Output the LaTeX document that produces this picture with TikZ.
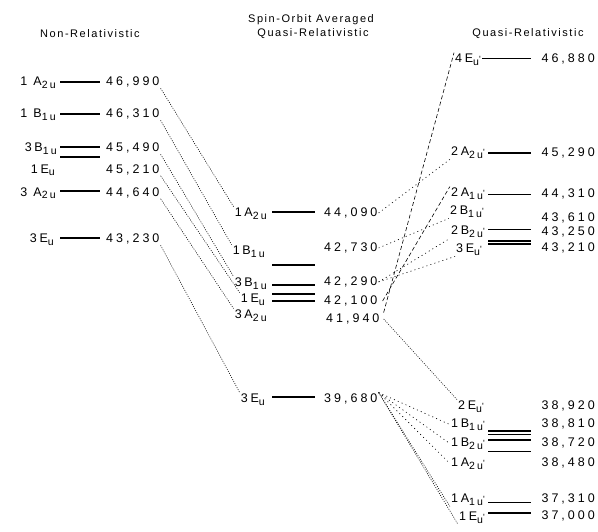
\documentclass[tikz,border=0pt]{standalone}
\usepackage{fontspec}
\setmainfont{Liberation Sans}
\newfontfamily\lblfont[LetterSpace=22]{Liberation Sans}
\newfontfamily\valfont[LetterSpace=24]{Liberation Sans}
\newfontfamily\ttlfont[LetterSpace=14]{Liberation Sans}
\newcommand{\sbx}[1]{\raisebox{-2.6pt}{\fontsize{10.5}{10.5}\selectfont #1}}
\newcommand{\prm}{{\fontsize{9}{9}\selectfont\char"0027}}
\begin{document}
\begin{tikzpicture}[x=1pt,y=-1pt,
  lbl/.style={anchor=base east,inner sep=1pt,font=\lblfont\fontsize{12.5}{14}\selectfont},
  val/.style={anchor=base west,inner sep=1pt,font=\valfont\fontsize{12.5}{14}\selectfont},
  rval/.style={anchor=base east,inner sep=1pt,font=\valfont\fontsize{12.5}{14}\selectfont},
  ttl/.style={inner sep=0pt,font=\ttlfont\fontsize{11}{13}\selectfont,align=center},
  lev/.style={line width=1.2pt},
  ldot/.style={line width=0.55pt,dash pattern=on 1pt off 1.3pt},
  sdot/.style={line width=0.65pt,dash pattern=on 1pt off 3.2pt},
  dsh/.style={line width=0.6pt,dash pattern=on 4pt off 2.5pt}]
\useasboundingbox (0,0) rectangle (598,531);
% titles
\node[ttl] (t1) at (90,34) {Non-Relativistic};
\node[ttl] (t2a) at (311,20) {Spin-Orbit Averaged};
\node[ttl] (t2b) at (313,34) {Quasi-Relativistic};
\node[ttl] (t3) at (528,34) {Quasi-Relativistic};
% ---------- left column
\node[lbl] (LA) at (57,85.5) {1 A\sbx{2u}};
\node[lbl] (LB) at (57,117.5) {1 B\sbx{1u}};
\node[lbl] (LC) at (58,151.5) {3B\sbx{1u}};
\node[lbl] (LD) at (56,173) {1E\sbx{u}};
\node[lbl] (LE) at (57,196) {3 A\sbx{2u}};
\node[lbl] (LF) at (55,242.5) {3E\sbx{u}};
\node[val] (lvA) at (105,85.5) {46,990};
\node[val] (lvB) at (105,117.5) {46,310};
\node[val] (lvC) at (105,151.5) {45,490};
\node[val] (lvD) at (105,173) {45,210};
\node[val] (lvE) at (105,196) {44,640};
\node[val] (lvF) at (105,242.5) {43,230};
\draw[lev] (60,82) -- (100,82);
\draw[lev] (60,114) -- (100,114);
\draw[lev] (60,147) -- (100,147);
\draw[lev] (60,157) -- (100,157);
\draw[lev] (60,191) -- (100,191);
\draw[lev] (60,238) -- (100,238);
% ---------- middle column
\node[lbl] (MA) at (268,216.5) {1A\sbx{2u}};
\node[lbl] (MB) at (266,254.5) {1B\sbx{1u}};
\node[lbl] (MC) at (268,286.5) {3B\sbx{1u}};
\node[lbl] (MD) at (266,302.5) {1E\sbx{u}};
\node[lbl] (ME) at (268,318.5) {3A\sbx{2u}};
\node[lbl] (MF) at (266,402.5) {3E\sbx{u}};
\node[val] (mvA) at (323,216.5) {44,090};
\node[val] (mvB) at (323,251.5) {42,730};
\node[val] (mvC) at (323,285.5) {42,290};
\node[val] (mvD) at (323,304.5) {42,100};
\node[val] (mvE) at (325,322.5) {41,940};
\node[val] (mvF) at (323,402.5) {39,680};
\draw[lev] (272,212) -- (315,212);
\draw[lev] (272,265) -- (315,265);
\draw[lev] (272,285) -- (315,285);
\draw[lev] (272,294) -- (315,294);
\draw[lev] (272,301) -- (315,301);
\draw[lev] (272,397) -- (315,397);
% ---------- right column
\node[lbl] (R1) at (482,62.5) {4E\sbx{u}\prm};
\node[lbl] (R2) at (486,155.5) {2A\sbx{2u}\prm};
\node[lbl] (R3) at (486,196.5) {2A\sbx{1u}\prm};
\node[lbl] (R4) at (485,214.5) {2B\sbx{1u}\prm};
\node[lbl] (R5) at (486,234.5) {2B\sbx{2u}\prm};
\node[lbl] (R6) at (483,252.5) {3E\sbx{u}\prm};
\node[lbl] (R7) at (485,409.5) {2E\sbx{u}\prm};
\node[lbl] (R8) at (486,427.5) {1B\sbx{1u}\prm};
\node[lbl] (R9) at (486,446.5) {1B\sbx{2u}\prm};
\node[lbl] (R10) at (486,466.5) {1A\sbx{2u}\prm};
\node[lbl] (R11) at (486,502.5) {1A\sbx{1u}\prm};
\node[lbl] (R12) at (486,520.5) {1E\sbx{u}\prm};
\node[rval] (rv1) at (596,62.5) {46,880};
\node[rval] (rv2) at (596,156.5) {45,290};
\node[rval] (rv3) at (596,197.5) {44,310};
\node[rval] (rv4) at (596,221.5) {43,610};
\node[rval] (rv5) at (596,235) {43,250};
\node[rval] (rv6) at (596,251.5) {43,210};
\node[rval] (rv7) at (596,409.5) {38,920};
\node[rval] (rv8) at (596,427.5) {38,810};
\node[rval] (rv9) at (596,446.5) {38,720};
\node[rval] (rv10) at (596,466.5) {38,480};
\node[rval] (rv11) at (596,502.5) {37,310};
\node[rval] (rv12) at (596,519.5) {37,000};
\draw[line width=1pt] (482,58) -- (531,58);
\draw[lev] (488,153) -- (531,153);
\draw[line width=1pt] (488,194) -- (531,194);
\draw[line width=1pt] (488,229) -- (531,229);
\draw[lev] (488,241) -- (531,241);
\draw[line width=1.6pt] (488,244) -- (531,244);
\draw[lev] (488,431) -- (531,431);
\draw[lev] (488,434.5) -- (531,434.5);
\draw[lev] (488,440) -- (531,440);
\draw[line width=1pt] (488,451) -- (531,451);
\draw[line width=1pt] (488,502) -- (531,502);
\draw[lev] (488,513) -- (531,513);
% ---------- connectors left -> middle
\draw[ldot] (lvA.south east) -- (MA.north west);
\draw[ldot] (lvB.south east) -- (MB.north west);
\draw[ldot] (lvC.south east) -- (MC.north west);
\draw[ldot] (lvD.south east) -- (MD.north west);
\draw[ldot] (lvE.south east) -- (ME.north west);
\draw[ldot] (lvF.south east) -- (MF.north west);
% ---------- connectors middle -> right
\draw[sdot] (mvA.east) -- (R2.south west);
\draw[sdot] (mvB.east) -- (R4.south west);
\draw[sdot] (mvC.east) -- (R5.south west);
\draw[sdot] (mvC.east) -- (R6.south west);
\draw[dsh] ([xshift=4pt]mvD.east) -- (R3.north west);
\draw[dsh] ([xshift=3pt]mvE.north east) -- (R1.north west);
\draw[ldot] ([xshift=3pt]mvE.east) -- (R7.north west);
\draw[sdot] (mvF.north east) -- (R8.west);
\draw[sdot] (mvF.north east) -- (R9.west);
\draw[sdot] (mvF.north east) -- (R10.west);
\draw[ldot] (mvF.north east) -- (R11.south west);
\draw[ldot] (mvF.north east) -- (R12.south west);
\end{tikzpicture}
\end{document}
